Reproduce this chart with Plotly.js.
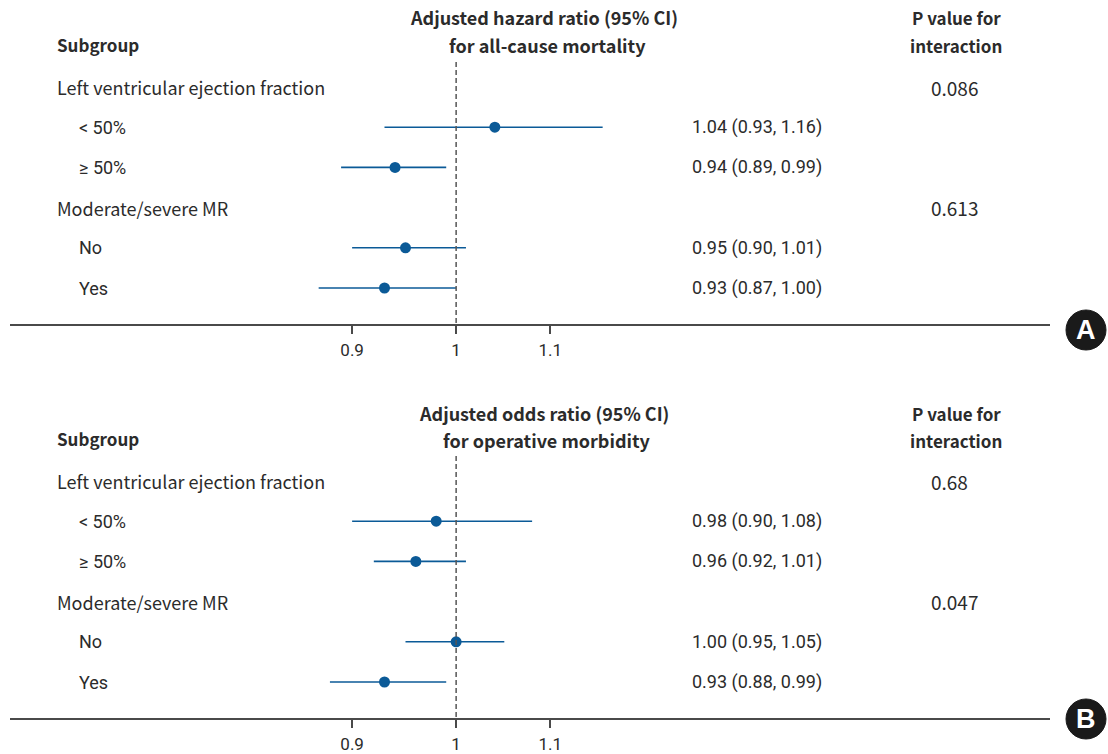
<!DOCTYPE html>
<html>
<head>
<meta charset="utf-8">
<script src="https://cdn.plot.ly/plotly-3.0.1.min.js"></script>
<style>html,body{margin:0;padding:0;background:#fff;}#chart{width:1108px;height:754px;}</style>
</head>
<body>
<div id="chart"></div>
<script>
// ---- data ----
const rowLabels = ["Left ventricular ejection fraction", "< 50%", "≥ 50%", "Moderate/severe MR", "No", "Yes"];
const rowIsGroup = [true, false, false, true, false, false];

const estA = [null, 1.04, 0.94, null, 0.95, 0.93];
const loA  = [null, 0.93, 0.89, null, 0.90, 0.87];
const hiA  = [null, 1.16, 0.99, null, 1.01, 1.00];
const pA   = ["0.086", "", "", "0.613", "", ""];

const estB = [null, 0.98, 0.96, null, 1.00, 0.93];
const loB  = [null, 0.90, 0.92, null, 0.95, 0.88];
const hiB  = [null, 1.08, 1.01, null, 1.05, 0.99];
const pB   = ["0.68", "", "", "0.047", "", ""];

const titleA = ["Adjusted hazard ratio (95% CI)", "for all-cause mortality"];
const titleB = ["Adjusted odds ratio (95% CI)", "for operative morbidity"];
const pHeader = ["P value for", "interaction"];
const subgroupHeader = "Subgroup";
const tickVals = [0.9, 1, 1.1];
const tickText = ["0.9", "1", "1.1"];
const panelLetters = ["A", "B"];

// ---- layout helpers ----
const W = 1108, H = 754;
const rowStep = 40.2, row1px = 87, panelH = 324;
const pxToRow = px => 1 + (px - row1px) / rowStep;
const yRange = [pxToRow(panelH), pxToRow(0)];
const xRange = [Math.log10(0.6364), Math.log10(1.825)];
const BLUE = '#0b5a97';
const TXT = '#2b2b2b';
const HFONT = '"Noto Sans CJK KR", "Noto Sans", sans-serif';
const NFONT = 'Roboto, "Noto Sans", sans-serif';

const traces = [];
const annotations = [];
const shapes = [];

function buildPanel(idx, est, lo, hi, pv, title) {
  const xa = idx === 0 ? 'x' : 'x2';
  const ya = idx === 0 ? 'y' : 'y2';
  const rows = est.map((_, i) => i + 1);
  // CI lines
  const lx = [], ly = [];
  est.forEach((e, i) => {
    if (e !== null) { lx.push(lo[i], hi[i], null); ly.push(rows[i], rows[i], null); }
  });
  traces.push({x: lx, y: ly, xaxis: xa, yaxis: ya, mode: 'lines', type: 'scatter',
    line: {color: BLUE, width: 1.6}, hoverinfo: 'skip', showlegend: false});
  // point estimates
  const px = [], py = [];
  est.forEach((e, i) => { if (e !== null) { px.push(e); py.push(rows[i]); } });
  traces.push({x: px, y: py, xaxis: xa, yaxis: ya, mode: 'markers', type: 'scatter',
    marker: {color: BLUE, size: 11}, showlegend: false});

  // row labels, estimate texts, p values
  rowLabels.forEach((lab, i) => {
    annotations.push({xref: 'paper', yref: ya, x: (rowIsGroup[i] ? 55 : 77) / W, y: rows[i],
      xanchor: 'left', yanchor: 'middle', showarrow: false, text: lab,
      font: {family: rowIsGroup[i] ? HFONT : NFONT, size: 18, color: TXT}});
    if (est[i] !== null) {
      annotations.push({xref: 'paper', yref: ya, x: 690 / W, y: rows[i],
        xanchor: 'left', yanchor: 'middle', showarrow: false,
        text: est[i].toFixed(2) + ' (' + lo[i].toFixed(2) + ', ' + hi[i].toFixed(2) + ')',
        font: {family: NFONT, size: 18, color: TXT}});
    }
    if (pv[i]) {
      annotations.push({xref: 'paper', yref: ya, x: 929 / W, y: rows[i],
        xanchor: 'left', yanchor: 'middle', showarrow: false, text: pv[i],
        font: {family: HFONT, size: 19, color: TXT}});
    }
  });
  // headers
  const hy1 = pxToRow(idx === 0 ? 17 : 19), hy2 = pxToRow(idx === 0 ? 45 : 46);
  const hfont = {family: HFONT, size: 17, color: TXT};
  const tfont = {family: HFONT, size: 18, color: TXT};
  annotations.push({xref: 'paper', yref: ya, x: 55 / W, y: pxToRow(44), xanchor: 'left', yanchor: 'middle',
    showarrow: false, text: '<b>' + subgroupHeader + '</b>', font: hfont});
  annotations.push({xref: 'paper', yref: ya, x: 544 / W, y: hy1, xanchor: 'center', yanchor: 'middle',
    showarrow: false, text: '<b>' + title[0] + '</b>', font: tfont});
  annotations.push({xref: 'paper', yref: ya, x: 547 / W, y: hy2, xanchor: 'center', yanchor: 'middle',
    showarrow: false, text: '<b>' + title[1] + '</b>', font: tfont});
  annotations.push({xref: 'paper', yref: ya, x: 956 / W, y: hy1, xanchor: 'center', yanchor: 'middle',
    showarrow: false, text: '<b>' + pHeader[0] + '</b>', font: hfont});
  annotations.push({xref: 'paper', yref: ya, x: 956 / W, y: hy2, xanchor: 'center', yanchor: 'middle',
    showarrow: false, text: '<b>' + pHeader[1] + '</b>', font: hfont});

  // reference dashed line at 1
  shapes.push({type: 'line', xref: xa, yref: ya, x0: 1, x1: 1, y0: pxToRow(62), y1: yRange[0],
    line: {color: '#555', width: 1.5, dash: '5px,3px'}});

  // panel letter badge
  const cy = idx === 0 ? 330 : 719, cx = 1086, r = 20;
  shapes.push({type: 'circle', xref: 'paper', yref: 'paper',
    x0: (cx - r) / W, x1: (cx + r) / W, y0: 1 - (cy + r) / H, y1: 1 - (cy - r) / H,
    fillcolor: '#1a1a1a', line: {color: '#1a1a1a', width: 1}});
  annotations.push({xref: 'paper', yref: 'paper', x: cx / W, y: 1 - cy / H, xanchor: 'center', yanchor: 'middle',
    showarrow: false, text: '<b>' + panelLetters[idx] + '</b>',
    font: {family: 'Arial, "Liberation Sans", sans-serif', size: 27, color: '#fff'}});
}

buildPanel(0, estA, loA, hiA, pA, titleA);
buildPanel(1, estB, loB, hiB, pB, titleB);

const xaxisBase = {
  type: 'log', range: xRange, domain: [10 / W, 1050 / W],
  showline: true, linecolor: '#4a4a4a', linewidth: 1.5,
  ticks: 'outside', ticklen: 8, tickwidth: 1.5, tickcolor: '#4a4a4a',
  tickvals: tickVals, ticktext: tickText,
  tickfont: {family: NFONT, size: 17, color: TXT},
  ticklabelstandoff: 2,
  showgrid: false, zeroline: false, fixedrange: true
};
const yaxisBase = {range: yRange, visible: false, showgrid: false, zeroline: false, fixedrange: true};

const layout = {
  width: W, height: H,
  margin: {l: 0, r: 0, t: 0, b: 0},
  paper_bgcolor: '#fff', plot_bgcolor: '#fff',
  xaxis: Object.assign({}, xaxisBase, {anchor: 'y'}),
  yaxis: Object.assign({}, yaxisBase, {domain: [1 - panelH / H, 1], anchor: 'x'}),
  xaxis2: Object.assign({}, xaxisBase, {anchor: 'y2'}),
  yaxis2: Object.assign({}, yaxisBase, {domain: [1 - (394 + panelH) / H, 1 - 394 / H], anchor: 'x2'}),
  annotations: annotations,
  shapes: shapes,
  showlegend: false
};

Plotly.newPlot('chart', traces, layout, {displayModeBar: false, staticPlot: true});
</script>
</body>
</html>
